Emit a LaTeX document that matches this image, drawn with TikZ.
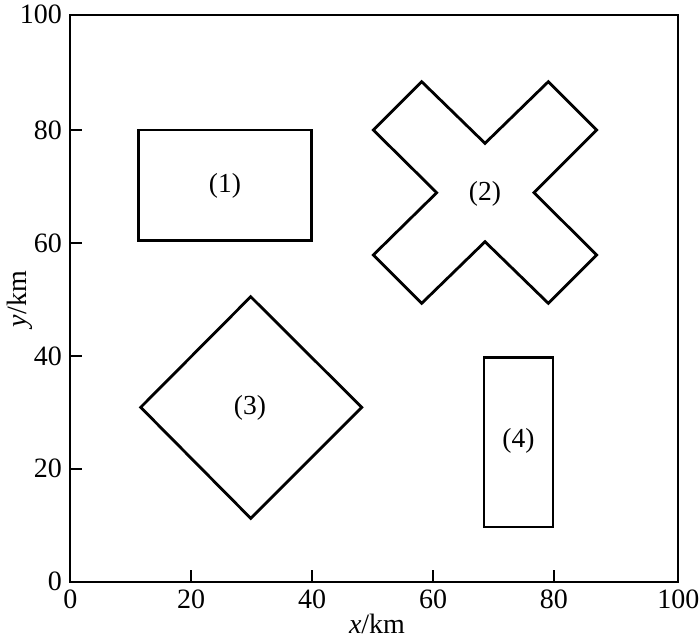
\documentclass[tikz,border=0pt]{standalone}
\usepackage{fontspec}
\setmainfont{Liberation Serif}
\begin{document}
\begin{tikzpicture}[x=1pt,y=-1pt,
  axisline/.style={line width=2pt},
  shapeline/.style={line width=2.8pt,line join=miter},
  ticklab/.style={inner sep=0pt,font=\fontsize{28}{28}\selectfont},
  shapelab/.style={inner sep=0pt,font=\fontsize{27.5}{27.5}\selectfont}]
\useasboundingbox (0,0) rectangle (700,641);
% axes box
\draw[axisline] (70.3,14.7) rectangle (678.3,581.7);
% x ticks
\foreach \k/\lab in {0/0,1/20,2/40,3/60,4/80}{
  \coordinate (xt\k) at ({70.3+120.9*\k},581.7);
  \draw[axisline] (xt\k) -- ++(0,-11.5);
  \node[ticklab,anchor=north] (xl\k) at ({70.3+120.9*\k},590) {\lab};
}
\node[ticklab,anchor=north] (xl5) at (678.3,590) {100};
% y ticks
\foreach \k/\lab in {0/0,1/20,2/40,3/60,4/80}{
  \coordinate (yt\k) at (70.3,{581.7-112.9*\k});
  \draw[axisline] (yt\k) -- ++(11.5,0);
  \node[ticklab,anchor=east] (yl\k) at (62,{581.7-112.9*\k}) {\lab};
}
\node[ticklab,anchor=east] (yl5) at (62,14.7) {100};
% axis labels
\node[ticklab] (xlabel) at (377,624) {\textit{x}/km};
\node[ticklab,rotate=90] (ylabel) at (20,299) {\textit{y}/km};
% (1) rectangle
\draw[shapeline] (138.3,130) rectangle (311.7,240.7);
\node[shapelab] (l1) at (225,186) {(1)};
% (2) cross
\draw[shapeline] (421.7,81.7) -- (485,143.3) -- (548.3,81.7) -- (596.7,130)
  -- (534,192.7) -- (596.7,255) -- (548.3,303.3) -- (485,241.7)
  -- (421.7,303.3) -- (373.3,255) -- (436.7,192.7) -- (373.3,130) -- cycle;
\node[shapelab] (l2) at (485,194) {(2)};
% (3) diamond
\draw[shapeline] (250.7,296.7) -- (361.7,407.3) -- (250.7,518.3) -- (140.7,407.3) -- cycle;
\node[shapelab] (l3) at (250,408) {(3)};
% (4) rectangle
\draw[shapeline] (484,357.5) rectangle (553,527);
\node[shapelab] (l4) at (518.5,441) {(4)};
\end{tikzpicture}
\end{document}
